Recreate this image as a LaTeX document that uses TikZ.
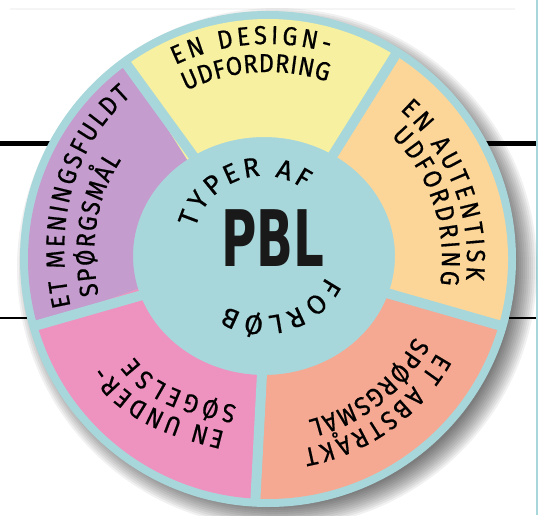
\documentclass[tikz,border=0pt]{standalone}
\usepackage{fontspec}
\setmainfont{Fira Sans}
\newfontfamily\labelfam{Fira Sans}[FakeStretch=0.91, FakeBold=0.6]
\newfontfamily\hubfam{Fira Sans}[FakeBold=0.6]
\newfontfamily\pblfont{DejaVu Sans}
\usetikzlibrary{decorations.text}
\definecolor{ringteal}{RGB}{168,215,219}
\definecolor{segyellow}{RGB}{246,240,160}
\definecolor{segpeach}{RGB}{252,214,152}
\definecolor{segsalmon}{RGB}{245,168,146}
\definecolor{segpink}{RGB}{238,146,192}
\definecolor{segpurple}{RGB}{196,156,206}
\newcommand\ringfont{\labelfam\fontsize{26}{26}\selectfont}
\newcommand\hubfont{\hubfam\fontsize{27}{27}\selectfont}
\tikzset{
  ringtext/.style={decorate, decoration={text along path, text={|\ringfont|#1}, text align={fit to path}}},
  hubtext/.style={decorate, decoration={text along path, text={|\hubfont|#1}, text align={fit to path}}},
  gapline/.style={ringteal, line width=10pt},
  thickrule/.style={black, line width=5pt},
  thinrule/.style={black, line width=2.5pt}
}
\newcommand\segment[3]{% start angle, end angle, colour
  \fill[#3] (#1:240) arc[start angle=#1, end angle=#2, radius=240]
    -- ([shift={(-4,3)}]#2:131 and 119) arc[start angle=#2, end angle=#1, x radius=131, y radius=119] -- cycle;}
\begin{document}
\begin{tikzpicture}[x=1pt,y=1pt]
\useasboundingbox (0,0) rectangle (538,515);
\fill[white] (0,0) rectangle (538,515);
% page rules
\fill[black!4] (10,505) rectangle (515,507);
\draw[thickrule] (0,371) -- (80,371);
\draw[thickrule] (460,371) -- (536,371);
\draw[thinrule] (0,197) -- (60,197);
\draw[thinrule] (480,197) -- (536,197);
\fill[ringteal] (535.5,0) rectangle (538,515);
\begin{scope}[shift={(268,256)}]
  % shadow
  \foreach \i in {1,...,12} \fill[black, opacity=0.055] (9,-9) circle ({236+2*\i});
  % ring
  \fill[ringteal] (0,0) circle (248);
  \segment{58}{126}{segyellow}
  \segment{126}{196}{segpurple}
  \segment{196}{267}{segpink}
  \segment{267}{344}{segsalmon}
  \segment{-16}{58}{segpeach}
  \foreach \a in {58,126,196,267,344} \draw[gapline] (0,0) -- (\a:244);
  % segment labels
  \path[ringtext={EN DESIGN-}] (115.5:215) arc[start angle=115.5, end angle=73.5, radius=215];
  \path[ringtext={UDFORDRING}] (116:187) arc[start angle=116, end angle=71.5, radius=187];
  \path[ringtext={EN AUTENTISK}] (48.5:199) arc[start angle=48.5, end angle=-6, radius=199];
  \path[ringtext={UDFORDRING}] (45:174) arc[start angle=45, end angle=-8.5, radius=174];
  \path[ringtext={ET ABSTRAKT}] (331:193) arc[start angle=331, end angle=280.5, radius=193];
  \path[ringtext={SPØRGSMÅL}] (332:166) arc[start angle=332, end angle=284, radius=166];
  \path[ringtext={EN UNDER-}] (256:178) .. controls (241.96:183.5) and (227.54:201) .. (213:195);
  \path[ringtext={SØGELSE}] (258:150) .. controls (244.12:154.5) and (229.88:171) .. (216:166);
  \path[ringtext={ET MENINGSFULDT}] (193.5:203) .. controls (172.36:216.2) and (151.14:226.9) .. (130:213);
  \path[ringtext={SPØRGSMÅL}] (192:173) .. controls (176.99:179.1) and (161.51:183.2) .. (146:177);
\end{scope}
% hub
\begin{scope}[shift={(263,269)}]
  \path[hubtext={TYPER AF}] (165:70) arc[start angle=165, end angle=54, radius=70];
  \path[hubtext={FORLØB}] (-26:70) arc[start angle=-26, end angle=-121, radius=70];
\end{scope}
\node[font=\pblfont\bfseries\fontsize{78}{78}\selectfont, xscale=0.62, inner sep=0pt, text=black!90] (pbl) at (273,277) {PBL};
\end{tikzpicture}
\end{document}
